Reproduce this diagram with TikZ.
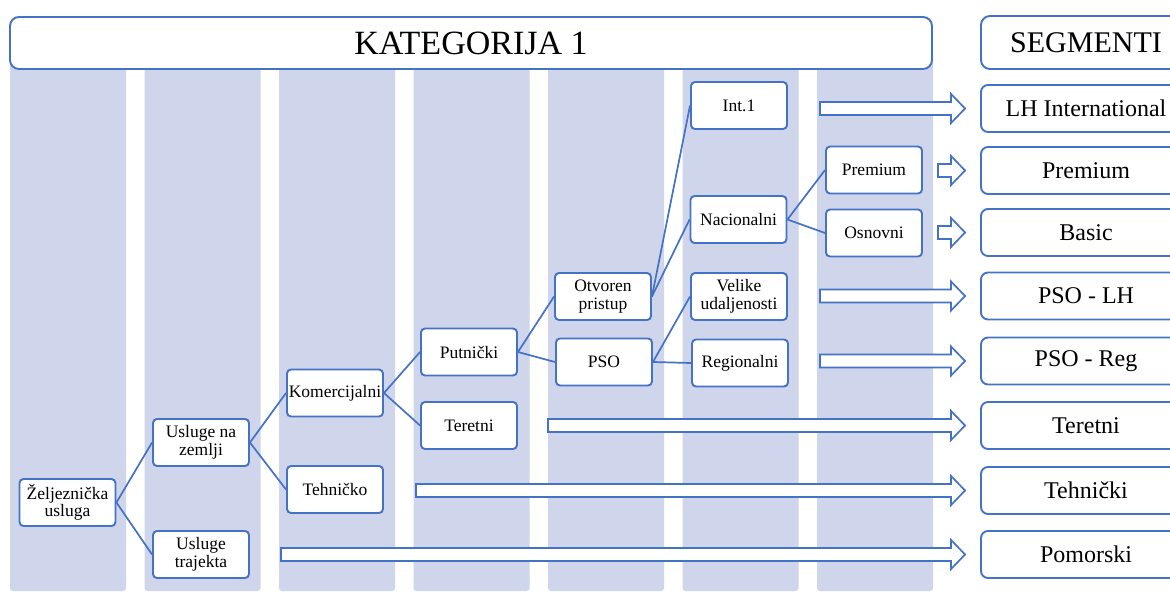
\documentclass[tikz,border=0pt]{standalone}
\usepackage{fontspec}
\setmainfont{Liberation Serif}
\usepackage{tikz}
\usetikzlibrary{positioning, calc}

\definecolor{ofblue}{HTML}{4472C4}
\definecolor{colfill}{HTML}{CFD5EA}

\tikzset{
  treebox/.style = {draw = ofblue, line width = 1.9pt, rounded corners = 4pt, fill = white,
    minimum width = 96pt, minimum height = 47pt, inner sep = 1pt, align = center,
    font = \fontsize{17.5}{17.5}\selectfont},
  segbox/.style = {draw = ofblue, line width = 1.9pt, rounded corners = 7pt, fill = white,
    minimum width = 210pt, minimum height = 47pt, font = \fontsize{24}{26}\selectfont},
  link/.style = {draw = ofblue, line width = 1.7pt},
  blockarrow/.style = {draw = ofblue, line width = 1.7pt, fill = white, line join = miter}
}

\begin{document}
\begin{tikzpicture}[x = 1pt, y = -1pt]
\clip (0,0) rectangle (1170,592);
\fill[white] (0,0) rectangle (1170,592);

% columns
\foreach \i in {0,...,6}
  \fill[colfill, rounded corners = 3pt] ({10+134.5*\i},60) rectangle ({126+134.5*\i},591);

% headers
\node[segbox, minimum width = 922pt, minimum height = 52pt, rounded corners = 9pt,
  font = \fontsize{34}{36}\selectfont] (KAT) at (471,43) {KATEGORIJA 1};
\node[segbox, minimum height = 53pt, rounded corners = 9pt,
  font = \fontsize{30}{32}\selectfont] (SEG) at (1086,42.5) {SEGMENTI};

% segments
\node[segbox] (S1) at (1086,108.5) {LH International};
\node[segbox] (S2) at (1086,170.5) {Premium};
\node[segbox] (S3) at (1086,232.5) {Basic};
\node[segbox] (S4) at (1086,296) {PSO - LH};
\node[segbox] (S5) at (1086,361) {PSO - Reg};
\node[segbox] (S6) at (1086,425.5) {Teretni};
\node[segbox] (S7) at (1086,490.5) {Tehnički};
\node[segbox] (S8) at (1086,554.5) {Pomorski};

% tree
\node[treebox] (ZU) at (67.5,502.5) {Željeznička\\usluga};
\node[treebox] (UZ) at (201,442.5) {Usluge na\\zemlji};
\node[treebox] (UT) at (201,554.5) {Usluge\\trajekta};
\node[treebox] (KO) at (335,393) {Komercijalni};
\node[treebox] (TH) at (335,489.5) {Tehničko};
\node[treebox] (PU) at (469,352) {Putnički};
\node[treebox] (TE) at (469,425.5) {Teretni};
\node[treebox] (OP) at (603,296.5) {Otvoren\\pristup};
\node[treebox] (PS) at (604,362) {PSO};
\node[treebox] (IN) at (739,105.5) {Int.1};
\node[treebox] (NA) at (738.5,219.5) {Nacionalni};
\node[treebox] (VU) at (739,296.5) {Velike\\udaljenosti};
\node[treebox] (RE) at (740,363) {Regionalni};
\node[treebox] (PR) at (874,170) {Premium};
\node[treebox] (OS) at (874,233) {Osnovni};

\draw[link] (ZU.east) -- (UZ.west);
\draw[link] (ZU.east) -- (UT.west);
\draw[link] (UZ.east) -- (KO.west);
\draw[link] (UZ.east) -- (TH.west);
\draw[link] (KO.east) -- (PU.west);
\draw[link] (KO.east) -- (TE.west);
\draw[link] (PU.east) -- (OP.west);
\draw[link] (PU.east) -- (PS.west);
\draw[link] (OP.east) -- (IN.west);
\draw[link] (OP.east) -- (NA.west);
\draw[link] (PS.east) -- (VU.west);
\draw[link] (PS.east) -- (RE.west);
\draw[link] (NA.east) -- (PR.west);
\draw[link] (NA.east) -- (OS.west);

% block arrows to the segments
\foreach \sx/\tgt in {820/S1, 938/S2, 938/S3, 820/S4, 820/S5, 548/S6, 416/S7, 281/S8}
  \draw[blockarrow] let \p1 = (\tgt.west) in
    ({\sx*1pt},{\y1+6.5pt}) -- ({\x1-29pt},{\y1+6.5pt}) -- ({\x1-29pt},{\y1+14.5pt})
    -- ({\x1-15pt},\y1) -- ({\x1-29pt},{\y1-14.5pt}) -- ({\x1-29pt},{\y1-6.5pt})
    -- ({\sx*1pt},{\y1-6.5pt}) -- cycle;
\end{tikzpicture}
\end{document}
